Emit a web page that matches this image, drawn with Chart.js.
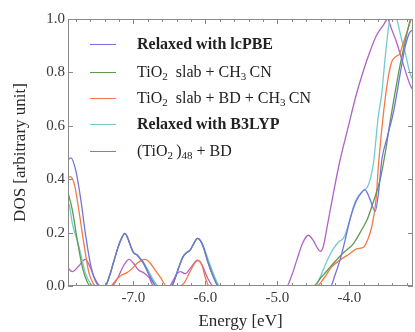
<!DOCTYPE html>
<html>
<head>
<meta charset="utf-8">
<script src="https://cdn.jsdelivr.net/npm/chart.js@4.4.1/dist/chart.umd.min.js"></script>
<style>
  html, body { margin: 0; padding: 0; background: #fff; }
  #wrap { position: relative; width: 415px; height: 332px; }
  .leg { position: absolute; left: 90px; height: 18px; line-height: 18px;
         font-family: 'Liberation Serif', serif; font-size: 16px; color: #222; white-space: nowrap; }
  .leg i { position: absolute; left: 0; top: 9px; width: 26px; height: 0; border-top: 1.4px solid; }
  .leg span { position: absolute; left: 47px; top: 0; }
  .leg b { font-weight: bold; }
  .leg sub { font-size: 11px; vertical-align: -3px; line-height: 0; }
</style>
</head>
<body>
<div id="wrap">
  <canvas id="dos" width="415" height="332"></canvas>
  <div class="leg" style="top:35px"><i style="border-color:#7274dc"></i><span><b>Relaxed with lcPBE</b></span></div>
  <div class="leg" style="top:63px"><i style="border-color:#5c9a4e"></i><span>TiO<sub>2</sub>&nbsp; slab + CH<sub>3</sub>&thinsp;CN</span></div>
  <div class="leg" style="top:89px"><i style="border-color:#f27a46"></i><span>TiO<sub>2</sub>&nbsp; slab + BD + CH<sub>3</sub>&thinsp;CN</span></div>
  <div class="leg" style="top:115px"><i style="border-color:#72cccc"></i><span><b>Relaxed with B3LYP</b></span></div>
  <div class="leg" style="top:142px"><i style="border-color:#b062c6"></i><span>(TiO<sub>2</sub>&thinsp;)<sub>48</sub> + BD</span></div>
</div>
<script>
// ---- Data (energy in eV, DOS in arbitrary units) ----
const xTicks = [-7, -6, -5, -4];
const yTicks = [0, 0.2, 0.4, 0.6, 0.8, 1.0];

const pbeE   = [-7.92,-7.87,-7.80,-7.73,-7.67,-7.60,-7.53,-7.47,-7.39,-7.33,-7.28,-7.22,-7.18,-7.12,-7.08,-7.04,-7.00,-6.95,-6.90,-6.86,-6.77,-6.68,
                -6.47,-6.42,-6.37,-6.31,-6.26,-6.21,-6.16,-6.11,-6.07,-6.03,-5.96,-5.89,-5.82,
                -4.26,-4.20,-4.13,-4.06,-3.99,-3.90,-3.83,-3.78,-3.72,-3.64,-3.59,-3.55,-3.47,-3.38,-3.29,-3.22,-3.16,-3.10];
const pbeDos = [0.47,0.48,0.43,0.32,0.20,0.085,0.02,0,0,0.04,0.086,0.14,0.17,0.197,0.18,0.15,0.125,0.116,0.10,0.085,0.035,0,
                0,0.03,0.07,0.11,0.125,0.135,0.16,0.178,0.17,0.147,0.085,0.035,0,
                0,0.04,0.097,0.17,0.25,0.32,0.35,0.36,0.33,0.28,0.36,0.47,0.56,0.66,0.80,0.90,0.95,0.96];

const slabE   = [-7.92,-7.85,-7.78,-7.71,-7.65,-7.60,
                 -7.40,-7.33,-7.28,-7.22,-7.18,-7.12,-7.08,-7.04,-7.00,-6.95,-6.90,-6.86,-6.77,-6.68,
                 -6.47,-6.42,-6.37,-6.31,-6.26,-6.21,-6.16,-6.11,-6.07,-6.03,-5.96,-5.89,-5.82,
                 -4.50,-4.40,-4.30,-4.22,-4.10,-3.94,-3.85,-3.75,-3.66,-3.57,-3.50,-3.43,-3.38,-3.30,-3.22,-3.16,-3.10];
const slabDos = [0.36,0.285,0.17,0.07,0.02,0,
                 0,0.04,0.086,0.14,0.17,0.197,0.18,0.15,0.125,0.116,0.10,0.085,0.035,0,
                 0,0.03,0.07,0.11,0.125,0.135,0.16,0.178,0.17,0.147,0.085,0.035,0,
                 0,0.03,0.06,0.085,0.12,0.16,0.20,0.25,0.32,0.40,0.50,0.62,0.70,0.82,0.92,0.99,1.03];

const bdE   = [-7.92,-7.88,-7.82,-7.76,-7.69,-7.62,-7.56,-7.52,
               -7.32,-7.25,-7.17,-7.09,-7.02,-6.95,-6.88,-6.84,-6.78,-6.70,-6.62,-6.54,
               -6.36,-6.30,-6.22,-6.15,-6.10,-6.05,-6.00,-5.95,
               -4.45,-4.35,-4.25,-4.13,-4.00,-3.89,-3.80,-3.75,-3.69,-3.63,-3.59,-3.52,-3.46,-3.41,-3.35,-3.30,-3.25,-3.20,-3.14,-3.10];
const bdDos = [0.40,0.41,0.38,0.285,0.16,0.05,0.01,0,
               0,0.02,0.04,0.05,0.065,0.085,0.097,0.10,0.09,0.06,0.03,0,
               0,0.01,0.05,0.085,0.095,0.08,0.03,0,
               0,0.03,0.07,0.097,0.12,0.14,0.145,0.17,0.22,0.32,0.47,0.66,0.78,0.84,0.86,0.87,0.91,0.95,1.0,1.03];

const b3lypE   = [-7.92,-7.89,-7.85,-7.76,-7.67,-7.60,-7.55,
                  -7.40,-7.33,-7.28,-7.22,-7.18,-7.12,-7.08,-7.04,-7.00,-6.95,-6.90,-6.85,-6.76,-6.65,
                  -6.48,-6.42,-6.37,-6.31,-6.26,-6.21,-6.16,-6.11,-6.07,-6.03,-5.95,-5.88,-5.80,
                  -4.47,-4.38,-4.30,-4.22,-4.15,-4.08,-4.00,-3.94,-3.89,-3.80,-3.75,-3.70,-3.66,-3.60,-3.55,-3.50,-3.45,-3.40,-3.34,-3.28,-3.22,-3.16,-3.10];
const b3lypDos = [0.32,0.30,0.235,0.15,0.05,0.01,0,
                  0,0.04,0.086,0.14,0.17,0.195,0.18,0.15,0.125,0.116,0.10,0.085,0.04,0,
                  0,0.03,0.07,0.11,0.125,0.135,0.16,0.178,0.17,0.15,0.09,0.04,0,
                  0,0.05,0.10,0.14,0.165,0.18,0.24,0.30,0.33,0.36,0.37,0.41,0.47,0.63,0.72,0.86,0.98,1.04,1.0,0.93,0.87,0.80,0.76];

const clusterE   = [-7.92,-7.85,-7.76,-7.67,-7.60,-7.55,-7.46,
                    -7.30,-7.22,-7.14,-7.06,-7.00,-6.93,-6.86,-6.78,-6.72,
                    -6.50,-6.45,-6.40,-6.35,-6.28,-6.20,-6.11,-6.05,-5.97,-5.89,
                    -4.87,-4.80,-4.73,-4.65,-4.57,-4.50,-4.44,-4.40,-4.36,-4.31,-4.22,-4.13,-4.03,-3.90,-3.80,-3.71,-3.62,-3.52,-3.47,-3.41,-3.34,-3.25,-3.15,-3.10];
const clusterDos = [0.07,0.054,0.075,0.10,0.07,0.035,0,
                    0,0.03,0.075,0.10,0.085,0.06,0.05,0.03,0,
                    0,0.02,0.045,0.054,0.046,0.07,0.097,0.08,0.03,0,
                    0,0.04,0.097,0.16,0.19,0.17,0.14,0.13,0.15,0.22,0.35,0.47,0.58,0.72,0.81,0.88,0.94,0.98,1.0,0.96,0.91,0.83,0.75,0.73];

const pts = (xs, ys) => xs.map((x, i) => ({ x, y: ys[i] }));
const line = (label, xs, ys, color) => ({
  label, data: pts(xs, ys), borderColor: color, backgroundColor: color,
  borderWidth: 1.3, pointRadius: 0, cubicInterpolationMode: 'monotone', fill: false
});

const SERIF = "'Liberation Serif', 'Times New Roman', serif";
const TXT = '#3a3a3a';
const FRAME = '#8a8a8a';

// ---- Frame with inward ticks ----
const framePlugin = {
  id: 'frame',
  afterDraw(chart) {
    const { ctx, chartArea: a, scales: { x, y } } = chart;
    ctx.save();
    ctx.strokeStyle = FRAME;
    ctx.lineWidth = 1;
    ctx.strokeRect(a.left + 0.5, a.top + 0.5, a.right - a.left - 1, a.bottom - a.top - 1);
    ctx.beginPath();
    for (let v = -7.8; v < x.max; v += 0.2) {
      const px = Math.round(x.getPixelForValue(v)) + 0.5;
      if (px <= a.left + 1 || px >= a.right - 1) continue;
      const major = Math.abs(v - Math.round(v)) < 0.01;
      const len = major ? 5 : 3;
      ctx.moveTo(px, a.bottom); ctx.lineTo(px, a.bottom - len);
      ctx.moveTo(px, a.top);    ctx.lineTo(px, a.top + len);
    }
    yTicks.forEach(v => {
      const py = Math.round(y.getPixelForValue(v)) + 0.5;
      ctx.moveTo(a.left, py);  ctx.lineTo(a.left + 5, py);
      ctx.moveTo(a.right, py); ctx.lineTo(a.right - 5, py);
    });
    ctx.stroke();
    ctx.restore();
  }
};

new Chart(document.getElementById('dos'), {
  type: 'line',
  data: {
    datasets: [
      line('Relaxed with lcPBE', pbeE, pbeDos, '#7274dc'),
      line('TiO2 slab + CH3CN', slabE, slabDos, '#5c9a4e'),
      line('TiO2 slab + BD + CH3CN', bdE, bdDos, '#f27a46'),
      line('Relaxed with B3LYP', b3lypE, b3lypDos, '#72cccc'),
      line('(TiO2)48 + BD', clusterE, clusterDos, '#b062c6')
    ]
  },
  options: {
    responsive: false,
    animation: false,
    devicePixelRatio: 1,
    layout: { padding: { top: 19, right: 2, left: 0, bottom: 0 } },
    plugins: { legend: { display: false }, tooltip: { enabled: false } },
    scales: {
      x: {
        type: 'linear', min: -7.91, max: -3.115,
        grid: { display: false, drawTicks: false },
        border: { display: false },
        afterBuildTicks: axis => { axis.ticks = xTicks.map(v => ({ value: v })); },
        afterFit: axis => { axis.height = 46; },
        ticks: { color: TXT, padding: 3, maxRotation: 0, font: { family: SERIF, size: 15 },
                 callback: v => v.toFixed(1) },
        title: { display: true, text: 'Energy [eV]', color: '#2a2a2a', padding: { top: 0, bottom: 0 },
                 font: { family: SERIF, size: 17 } }
      },
      y: {
        min: 0, max: 1,
        grid: { display: false, drawTicks: false },
        border: { display: false },
        afterBuildTicks: axis => { axis.ticks = yTicks.map(v => ({ value: v })); },
        afterFit: axis => { axis.width = 68; },
        ticks: { color: TXT, padding: 3, font: { family: SERIF, size: 15 },
                 callback: v => v.toFixed(1) },
        title: { display: true, text: 'DOS [arbitrary unit]', color: '#2a2a2a', padding: { top: 10, bottom: 0 },
                 font: { family: SERIF, size: 17 } }
      }
    }
  },
  plugins: [framePlugin]
});
</script>
</body>
</html>
